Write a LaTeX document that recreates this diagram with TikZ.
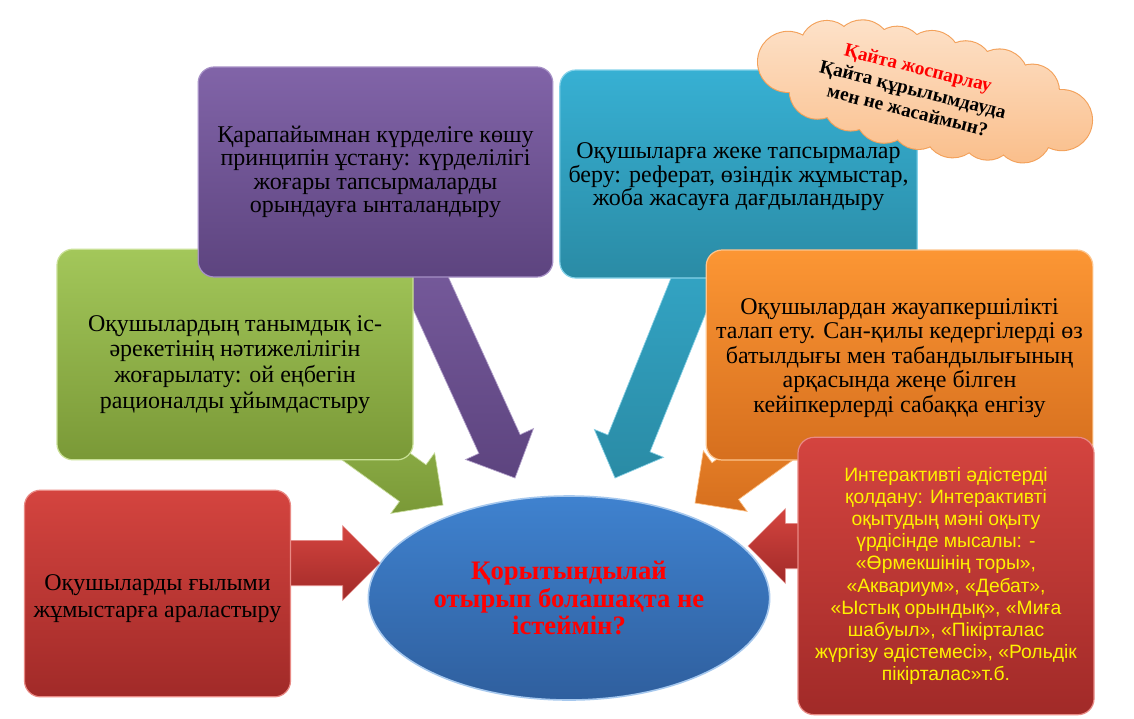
\documentclass[tikz,border=0pt]{standalone}
\usepackage{fontspec}
\setmainfont{Liberation Serif}
\newfontfamily\arialf{Liberation Sans}
\usetikzlibrary{calc,shapes.geometric}
\definecolor{purT}{HTML}{8164A8}\definecolor{purB}{HTML}{5D447F}\definecolor{purL}{HTML}{A690C6}
\definecolor{tealT}{HTML}{37B0D3}\definecolor{tealB}{HTML}{2A8BA5}\definecolor{tealL}{HTML}{86D3EA}
\definecolor{greT}{HTML}{A3C75A}\definecolor{greB}{HTML}{7A9937}\definecolor{greL}{HTML}{C9E096}
\definecolor{oraT}{HTML}{FC9634}\definecolor{oraB}{HTML}{D66F1E}\definecolor{oraL}{HTML}{FDC58E}
\definecolor{redT}{HTML}{D4443F}\definecolor{redB}{HTML}{A12A28}\definecolor{redL}{HTML}{E98A85}
\definecolor{bluT}{HTML}{3F82CF}\definecolor{bluB}{HTML}{2F5F9E}\definecolor{bluL}{HTML}{A6C8EE}
\definecolor{cloF}{HTML}{FDE1C8}\definecolor{cloB}{HTML}{FABF8C}\definecolor{cloD}{HTML}{F3A15A}
\newcommand\blockarr[3]{% #1 style, #2 start, #3 tip
  \coordinate (tmpH) at ($(#3)!28pt!(#2)$);
  \path[#1] ($(#2)!17pt!-90:(#3)$) -- ($(tmpH)!17pt!-90:(#3)$) -- ($(tmpH)!28pt!-90:(#3)$)
    -- (#3) -- ($(tmpH)!28pt!90:(#3)$) -- ($(tmpH)!17pt!90:(#3)$) -- ($(#2)!17pt!90:(#3)$) -- cycle;
}
\newcommand\topstrut[1]{\rule{0pt}{#1}}
\newcommand\cloudpath{%
  (0,0) ellipse [x radius=108pt, y radius=24pt]
  (-105,-22) circle [radius=20pt] (-70,-28) circle [radius=21.5pt] (-35,-31) circle [radius=20pt]
  (0,-32) circle [radius=21.5pt] (35,-31) circle [radius=20pt] (70,-28) circle [radius=21.5pt]
  (105,-22) circle [radius=20pt]
  (-105,22) circle [radius=21pt] (-70,28) circle [radius=20pt] (-35,31) circle [radius=21.5pt]
  (0,32) circle [radius=20pt] (35,31) circle [radius=21.5pt] (70,28) circle [radius=20pt]
  (105,22) circle [radius=21pt]
  (-140,0) circle [radius=22.5pt] (140,0) circle [radius=22.5pt]}
\tikzset{
  box/.style={rectangle, rounded corners=12pt, align=center, inner sep=4pt, line width=0.9pt},
  boxtext/.style={font=\fontsize{18}{#1}\selectfont},
  arr/.style 2 args={top color=#1, bottom color=#2, draw=#1!60!white, line width=0.5pt},
}
\begin{document}
\begin{tikzpicture}[x=0.75pt,y=-0.75pt]
\useasboundingbox[fill=white] (0,0) rectangle (1134,718);
% centre
\node[ellipse, minimum width=301pt, minimum height=153pt, top color=bluT, bottom color=bluB,
      draw=bluL, line width=1.2pt, align=center, text=red,
      font=\bfseries\fontsize{20}{20.6}\selectfont] (c) at (569,598)
  {Қорытындылай\\отырып болашақта не\\істеймін?};
% arrow anchors
\coordinate (gS) at (235,354.5); \coordinate (gT) at (443,505);
\coordinate (pS) at (375.5,172); \coordinate (pT) at (515,478);
\coordinate (tS) at (738.5,171); \coordinate (tT) at (615,478);
\coordinate (oS) at (899.5,355); \coordinate (oT) at (695,503);
\coordinate (lS) at (157,563);   \coordinate (lT) at (380,563);
\coordinate (rS) at (946,546);   \coordinate (rT) at (748,546);
\blockarr{arr={greT}{greB}}{gS}{gT}
\blockarr{arr={purT}{purB}}{pS}{pT}
\blockarr{arr={tealT}{tealB}}{tS}{tT}
\blockarr{arr={oraT}{oraB}}{oS}{oT}
\blockarr{arr={redT}{redB}}{lS}{lT}
\blockarr{arr={redT}{redB}}{rS}{rT}
% boxes
\node[box, boxtext=19.4, minimum width=267pt, minimum height=158pt, top color=greT, bottom color=greB, draw=greL] (g) at (235,354.5)
  {\topstrut{27pt}Оқушылардың танымдық іс-\\әрекетінің нәтижелілігін\\жоғарылату: ой еңбегін\\рационалды ұйымдастыру};
\node[box, boxtext=17.5, minimum width=266pt, minimum height=157.5pt, top color=purT, bottom color=purB, draw=purL] (p) at (375.5,172)
  {Қарапайымнан күрделіге көшу\\принципін ұстану: күрделілігі\\жоғары тапсырмаларды\\орындауға ынталандыру};
\node[box, boxtext=16.5, minimum width=268pt, minimum height=156pt, top color=tealT, bottom color=tealB, draw=tealL] (t) at (738.5,174)
  {\topstrut{16pt}Оқушыларға жеке тапсырмалар\\беру: реферат, өзіндік жұмыстар,\\жоба жасауға дағдыландыру};
\node[box, boxtext=18.4, minimum width=290pt, minimum height=157.5pt, top color=oraT, bottom color=oraB, draw=oraL] (o) at (899.5,355)
  {\topstrut{16pt}Оқушылардан жауапкершілікті\\талап ету. Сан-қилы кедергілерді өз\\батылдығы мен табандылығының\\арқасында жеңе білген\\кейіпкерлерді сабаққа енгізу};
\node[box, boxtext=20, minimum width=199.5pt, minimum height=155pt, top color=redT, bottom color=redB, draw=redL] (l) at (157.5,593.5)
  {\topstrut{20pt}Оқушыларды ғылыми\\жұмыстарға араластыру};
\node[box, minimum width=222pt, minimum height=208pt, top color=redT, bottom color=redB, draw=redL,
      text=yellow, font=\arialf\fontsize{14.5}{16.6}\selectfont] (r) at (946,576)
  {Интерактивті әдістерді\\қолдану: Интерактивті\\оқытудың мәні оқыту\\үрдісінде мысалы: -\\«Өрмекшінің торы»,\\«Аквариум», «Дебат»,\\«Ыстық орындық», «Миға\\шабуыл», «Пікірталас\\жүргізу әдістемесі», «Рольдік\\пікірталас»т.б.};
% cloud
\begin{scope}[shift={(925,91)}, rotate=-12]
  \draw[cloD, line width=1.6pt] \cloudpath;
  \shade[top color=cloF, bottom color=cloB] \cloudpath;
\end{scope}
\node[rotate=-14, align=center, inner sep=0pt, font=\bfseries\fontsize{14.5}{16.5}\selectfont] (kt) at (913,89)
  {\textcolor{red}{Қайта жоспарлау}\\Қайта құрылымдауда\\мен не жасаймын?};
\end{tikzpicture}
\end{document}
